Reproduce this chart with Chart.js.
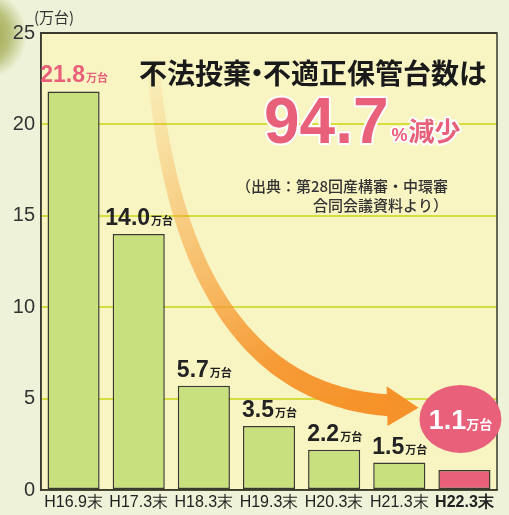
<!DOCTYPE html>
<html>
<head>
<meta charset="utf-8">
<script src="https://cdn.jsdelivr.net/npm/chart.js@4"></script>
<style>
  html, body { margin: 0; padding: 0; background: #eef2d8; }
  canvas { display: block; }
</style>
</head>
<body>
<canvas id="myChart" width="509" height="515"></canvas>
<script>

var labels = ['H16.9末', 'H17.3末', 'H18.3末', 'H19.3末', 'H20.3末', 'H21.3末', 'H22.3末'];
var values = [21.8, 14.0, 5.7, 3.5, 2.2, 1.5, 1.1];
var yMax = 25;
var yStep = 5;
var unitText = '万台';
var titleParts = ['不法投棄', '・', '不適正保管台数は'];
var bigText = '94.7';
var bigUnit = '%減少';
var sourceLines = ['（出典：第28回産構審・中環審', '合同会議資料より）'];

var green = '#c9e07f';
var pink = '#e8607a';
var dark = '#3a3a30';
var gridColor = '#d5de3e';
var numFont = '"Liberation Sans", Arial, sans-serif';
var jpFont = '"Noto Sans CJK JP", sans-serif';

function barColors() {

  var colors = [];

  for (var i = 0; i < values.length; i++) {
    colors.push(i === values.length - 1 ? pink : green);
  }

  return colors;
}

function bez(p0, p1, p2, p3, t) {
  var u = 1 - t;
  return [
    u * u * u * p0[0] + 3 * u * u * t * p1[0] + 3 * u * t * t * p2[0] + t * t * t * p3[0],
    u * u * u * p0[1] + 3 * u * u * t * p1[1] + 3 * u * t * t * p2[1] + t * t * t * p3[1]
  ];
}

var backgroundPlugin = {
  id: 'background',
  beforeDraw: function(chart) {
    var ctx = chart.ctx;
    var a = chart.chartArea;

    ctx.save();
    ctx.fillStyle = '#eef2d8';
    ctx.fillRect(0, 0, chart.width, chart.height);

    var g = ctx.createRadialGradient(-18, 35, 2, -18, 35, 45);
    g.addColorStop(0, 'rgba(140,150,50,0.95)');
    g.addColorStop(0.6, 'rgba(150,160,60,0.6)');
    g.addColorStop(1, 'rgba(150,160,60,0)');
    ctx.fillStyle = g;
    ctx.fillRect(0, 0, 60, 120);

    ctx.fillStyle = '#f8f5c3';
    ctx.fillRect(a.left, a.top, a.right - a.left, a.bottom - a.top);
    ctx.restore();
  },
  beforeDatasetsDraw: function(chart) {
    var ctx = chart.ctx;
    var a = chart.chartArea;
    var w = a.right - a.left;
    var h = a.bottom - a.top;

    // curved arrow, placed by fractions of the plot area
    var p0 = [a.left + w * 0.245, a.top + h * 0.06];
    var p1 = [a.left + w * 0.285, a.top + h * 0.55];
    var p2 = [a.left + w * 0.47, a.top + h * 0.8];
    var p3 = [a.left + w * 0.77, a.top + h * 0.815];
    var n = 80;
    var left = [];
    var right = [];

    for (var i = 0; i <= n; i++) {
      var t = i / n;
      var p = bez(p0, p1, p2, p3, t);
      var q = bez(p0, p1, p2, p3, Math.min(1, t + 0.001));
      var r = bez(p0, p1, p2, p3, Math.max(0, t - 0.001));
      var dx = q[0] - r[0];
      var dy = q[1] - r[1];
      var len = Math.sqrt(dx * dx + dy * dy) || 1;
      var half = (12 + 10 * t) / 2;
      left.push([p[0] - dy / len * half, p[1] + dx / len * half]);
      right.push([p[0] + dy / len * half, p[1] - dx / len * half]);
    }

    var grad = ctx.createLinearGradient(p0[0], p0[1], p3[0], p3[1]);
    grad.addColorStop(0, 'rgba(247,160,60,0.05)');
    grad.addColorStop(0.35, 'rgba(247,155,50,0.45)');
    grad.addColorStop(0.75, 'rgba(246,146,40,0.9)');
    grad.addColorStop(1, 'rgba(246,146,40,1)');

    ctx.save();
    ctx.fillStyle = grad;
    ctx.beginPath();
    ctx.moveTo(left[0][0], left[0][1]);
    for (var j = 1; j < left.length; j++) {
      ctx.lineTo(left[j][0], left[j][1]);
    }
    for (var k = right.length - 1; k >= 0; k--) {
      ctx.lineTo(right[k][0], right[k][1]);
    }
    ctx.closePath();
    ctx.fill();

    ctx.fillStyle = '#f6922a';
    ctx.beginPath();
    ctx.moveTo(a.left + w * 0.758, a.top + h * 0.773);
    ctx.lineTo(a.left + w * 0.828, a.top + h * 0.82);
    ctx.lineTo(a.left + w * 0.76, a.top + h * 0.86);
    ctx.closePath();
    ctx.fill();
    ctx.restore();
  },
  afterDatasetsDraw: function(chart) {
    var ctx = chart.ctx;
    var a = chart.chartArea;
    var meta = chart.getDatasetMeta(0);

    ctx.save();
    ctx.strokeStyle = dark;
    ctx.lineWidth = 1.5;
    ctx.strokeRect(a.left, a.top, a.right - a.left, a.bottom - a.top);

    for (var i = 0; i < meta.data.length; i++) {
      var bar = meta.data[i];
      var num = values[i].toFixed(1);
      ctx.textBaseline = 'alphabetic';
      ctx.textAlign = 'left';

      if (i === meta.data.length - 1) {
        var cx = bar.x - 4;
        var cy = bar.y - 51;
        ctx.fillStyle = pink;
        ctx.beginPath();
        ctx.ellipse(cx, cy, 41, 34, 0, 0, Math.PI * 2);
        ctx.fill();

        ctx.font = 'bold 27px ' + numFont;
        var nw = ctx.measureText(num).width;
        ctx.font = 'bold 13px ' + jpFont;
        var uw = ctx.measureText(unitText).width;
        var sx = cx - (nw + uw) / 2;
        ctx.fillStyle = '#ffffff';
        ctx.font = 'bold 27px ' + numFont;
        ctx.fillText(num, sx, cy + 10);
        ctx.font = 'bold 13px ' + jpFont;
        ctx.fillText(unitText, sx + nw, cy + 10);
        continue;
      }

      ctx.font = 'bold 23px ' + numFont;
      var w1 = ctx.measureText(num).width;
      ctx.font = 'bold 11px ' + jpFont;
      var w2 = ctx.measureText(unitText).width;
      var x0 = bar.x - (w1 + w2) / 2;
      var by = bar.y - 9;
      ctx.fillStyle = i === 0 ? pink : '#222222';
      ctx.font = 'bold 23px ' + numFont;
      ctx.fillText(num, x0, by);
      ctx.font = 'bold 11px ' + jpFont;
      ctx.fillText(unitText, x0 + w1 + 1, by);
    }
    ctx.restore();
  },
  afterDraw: function(chart) {
    var ctx = chart.ctx;

    ctx.save();
    ctx.fillStyle = '#333333';
    ctx.textBaseline = 'alphabetic';
    ctx.textAlign = 'left';
    ctx.font = '15px ' + jpFont;
    ctx.fillText('(' + unitText + ')', 34, 23);

    // title: tight middle dot like the original
    ctx.fillStyle = '#1a1a1a';
    ctx.font = 'bold 28px ' + jpFont;
    var tx = 139;
    ctx.fillText(titleParts[0], tx, 84);
    tx += ctx.measureText(titleParts[0]).width;
    ctx.textAlign = 'center';
    ctx.fillText(titleParts[1], tx + 6, 84);
    ctx.textAlign = 'left';
    tx += 12;
    ctx.fillText(titleParts[2], tx, 84);

    ctx.font = 'bold 64px ' + numFont;
    ctx.lineJoin = 'round';
    ctx.lineWidth = 4;
    ctx.strokeStyle = '#ffffff';
    ctx.strokeText(bigText, 264, 143);
    ctx.fillStyle = pink;
    ctx.fillText(bigText, 264, 143);
    var bw = ctx.measureText(bigText).width;

    ctx.font = 'bold 18px ' + numFont;
    ctx.strokeText('%', 264 + bw + 3, 141);
    ctx.fillText('%', 264 + bw + 3, 141);
    var pw = ctx.measureText('%').width;
    ctx.font = 'bold 26px ' + jpFont;
    ctx.strokeText(bigUnit.slice(1), 264 + bw + 4 + pw, 141);
    ctx.fillText(bigUnit.slice(1), 264 + bw + 4 + pw, 141);

    ctx.fillStyle = '#333333';
    ctx.font = '500 15px ' + jpFont;
    ctx.textAlign = 'right';
    ctx.fillText(sourceLines[0], 448, 192);
    ctx.fillText(sourceLines[1], 448, 211);
    ctx.restore();
  }
};

function stampChart() {

  var ctx = document.getElementById('myChart').getContext('2d');
  var chart = new Chart(ctx, {

    type: 'bar',
    data: {
      labels: labels,
      datasets: [{
        data: values,
        backgroundColor: barColors(),
        borderColor: dark,
        borderWidth: 1.5,
        borderSkipped: false,
        categoryPercentage: 0.8,
        barPercentage: 1.0
      }]
    },
    options: {
      responsive: false,
      animation: false,
      layout: {
        padding: { top: 33, right: 12, left: 0, bottom: 0 }
      },
      plugins: {
        legend: { display: false },
        tooltip: { enabled: false }
      },
      scales: {
        x: {
          grid: { display: false, drawTicks: false },
          border: { color: dark, width: 1.5 },
          afterFit: function(scale) { scale.height = 25; },
          ticks: {
            padding: 3,
            color: '#222222',
            maxRotation: 0,
            autoSkip: false,
            font: function(c) {
              return {
                family: numFont,
                size: 16,
                weight: c.index === labels.length - 1 ? 'bold' : 'normal'
              };
            }
          }
        },
        y: {
          min: 0,
          max: yMax,
          grid: {
            drawTicks: false,
            lineWidth: 2,
            color: function(c) {
              return c.tick && c.tick.value === yMax ? dark : gridColor;
            }
          },
          border: { color: dark, width: 1.5 },
          afterFit: function(scale) { scale.width = 41; },
          ticks: {
            stepSize: yStep,
            padding: 6,
            color: '#333333',
            font: { family: numFont, size: 20 }
          }
        }
      }
    },
    plugins: [backgroundPlugin]
  });
}

function init() {

  stampChart()
}

init();

</script>
</body>
</html>
